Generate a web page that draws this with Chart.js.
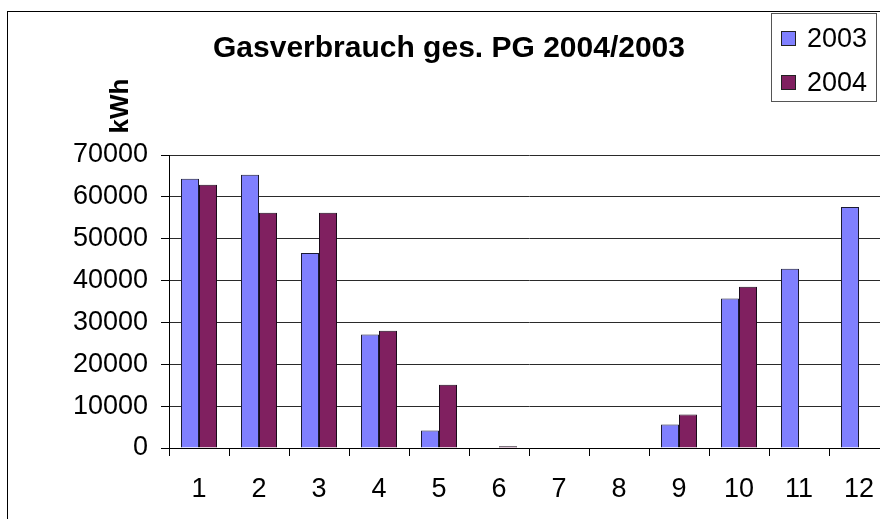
<!DOCTYPE html>
<html>
<head>
<meta charset="utf-8">
<script src="https://cdn.jsdelivr.net/npm/chart.js@4/dist/chart.umd.min.js"></script>
<style>
  html, body { margin: 0; padding: 0; background: #fff; overflow: hidden; }
  #wrap { width: 880px; height: 519px; overflow: hidden; position: relative; }
  canvas { position: absolute; left: 0; top: 0; }
</style>
</head>
<body>
<div id="wrap"><canvas id="gasChart" width="900" height="519"></canvas></div>
<script>
// monthly values
const months = ['1', '2', '3', '4', '5', '6', '7', '8', '9', '10', '11', '12'];
const gas2003 = [64300, 65300, 46600, 27100, 4200, 0, 0, 0, 5600, 35700, 42800, 57600];
const gas2004 = [62900, 56200, 56200, 28000, 15100, 400, 0, 0, 8000, 38500, null, null];
const yTicks = [0, 10000, 20000, 30000, 40000, 50000, 60000, 70000];

const titleText = 'Gasverbrauch ges. PG 2004/2003';
const unitText = 'kWh';

const FONT = "Arial, 'Liberation Sans', sans-serif";

// frame, title, unit and boxed legend like the old spreadsheet chart
const decorations = {
  id: 'decorations',
  afterDraw(chart) {
    const ctx = chart.ctx;
    ctx.save();
    ctx.strokeStyle = '#000';
    ctx.lineWidth = 1;
    ctx.strokeRect(7.5, 11.5, 1000, 1000);

    ctx.fillStyle = '#000';
    ctx.font = 'bold 30px ' + FONT;
    ctx.textAlign = 'center';
    ctx.textBaseline = 'alphabetic';
    ctx.fillText(titleText, 449, 57);

    ctx.save();
    ctx.translate(128, 106);
    ctx.rotate(-Math.PI / 2);
    ctx.font = 'bold 26px ' + FONT;
    ctx.fillText(unitText, 0, 0);
    ctx.restore();

    // legend box
    ctx.fillStyle = '#fff';
    ctx.fillRect(771, 13, 106, 88);
    ctx.strokeStyle = '#555';
    ctx.strokeRect(771.5, 13.5, 105, 88);
    ctx.textAlign = 'left';
    ctx.font = '27px ' + FONT;
    chart.data.datasets.forEach((ds, i) => {
      const y = 31 + i * 44;
      ctx.fillStyle = ds.backgroundColor;
      ctx.fillRect(781, y, 15, 15);
      ctx.strokeStyle = '#222';
      ctx.strokeRect(781.5, y + 0.5, 14, 14);
      ctx.fillStyle = '#000';
      ctx.fillText(ds.label, 807, y + 16);
    });
    ctx.restore();
  }
};

new Chart(document.getElementById('gasChart'), {
  type: 'bar',
  data: {
    labels: months,
    datasets: [
      {
        label: '2003',
        data: gas2003,
        backgroundColor: '#8080ff',
        borderColor: '#1a1a33',
        borderWidth: 1,
        borderSkipped: 'start',
        categoryPercentage: 0.6,
        barPercentage: 1.0
      },
      {
        label: '2004',
        data: gas2004,
        backgroundColor: '#802060',
        borderColor: '#1a0a1a',
        borderWidth: 1,
        borderSkipped: 'start',
        categoryPercentage: 0.6,
        barPercentage: 1.0
      }
    ]
  },
  options: {
    responsive: false,
    animation: false,
    layout: { padding: { top: 155, left: 0, right: 11, bottom: 0 } },
    plugins: {
      legend: { display: false },
      title: { display: false },
      tooltip: { enabled: false }
    },
    scales: {
      x: {
        grid: {
          drawOnChartArea: false,
          drawTicks: true,
          tickLength: 8,
          tickColor: '#000',
          offset: true
        },
        border: { color: '#000', width: 1 },
        ticks: {
          color: '#000',
          padding: 17,
          maxRotation: 0,
          autoSkip: false,
          font: { family: FONT, size: 27 }
        },
        afterFit(scale) { scale.height = 71; }
      },
      y: {
        min: yTicks[0],
        max: yTicks[yTicks.length - 1],
        afterBuildTicks(scale) { scale.ticks = yTicks.map(v => ({ value: v })); },
        grid: {
          color: '#2a2a2a',
          lineWidth: 1,
          tickLength: 8,
          tickColor: '#000'
        },
        border: { color: '#000', width: 1 },
        ticks: {
          color: '#000',
          padding: 13,
          font: { family: FONT, size: 27 },
          callback: v => String(v)
        },
        afterFit(scale) { scale.width = 169; }
      }
    }
  },
  plugins: [decorations]
});
</script>
</body>
</html>
